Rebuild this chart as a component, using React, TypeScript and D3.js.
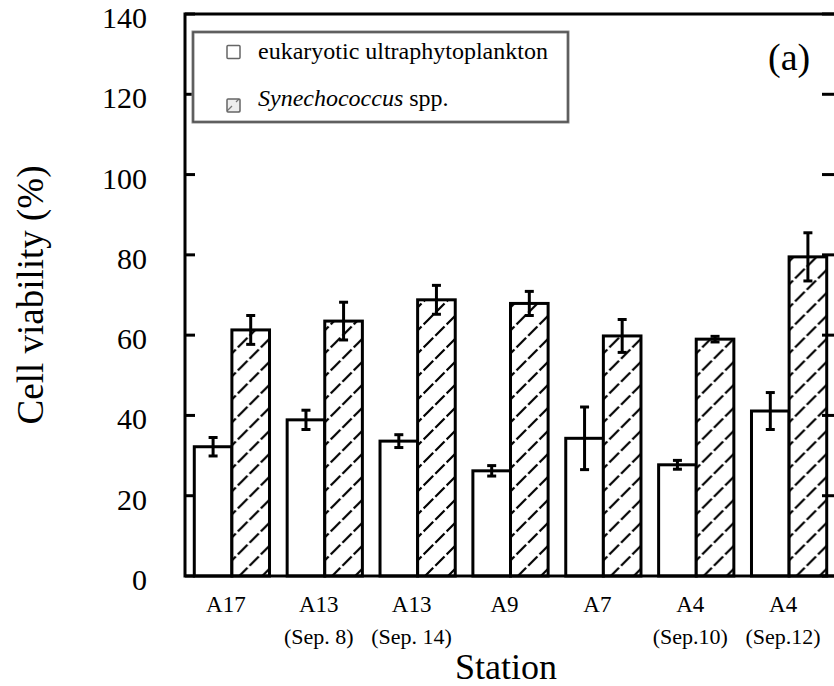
import React from "react";
import * as d3 from "d3";

const stations = ["A17", "A13", "A13", "A9", "A7", "A4", "A4"];
const stationDates = ["", "(Sep. 8)", "(Sep. 14)", "", "", "(Sep.10)", "(Sep.12)"];
const eukaryotic = [32.2, 38.9, 33.6, 26.2, 34.3, 27.7, 41.1];
const eukaryoticErr = [2.3, 2.4, 1.6, 1.3, 7.8, 1.1, 4.6];
const synechococcus = [61.3, 63.5, 68.8, 67.9, 59.8, 59.0, 79.5];
const synechococcusErr = [3.6, 4.7, 3.6, 3.0, 4.1, 0.7, 6.0];
const yTicks = [0, 20, 40, 60, 80, 100, 120, 140];
const seriesKeys = ["euk", "syn"];

const W = 834;
const H = 686;
const left = 185;
const right = 836;
const top = 14;
const bottom = 576;
const FONT = "Liberation Serif";
const tStyle = { fontFamily: FONT };

export default function App() {
  const ids = stations.map((_, i) => String(i));
  const x = d3.scaleBand<string>().domain(ids).range([left, right]).paddingInner(0.19).paddingOuter(0.1);
  const xs = d3.scaleBand<string>().domain(seriesKeys).range([0, x.bandwidth()]);
  const y = d3.scaleLinear().domain([0, 140]).range([bottom, top]);

  const rows = ids.map((id, i) => ({
    id,
    vals: [
      { key: "euk", v: eukaryotic[i], e: eukaryoticErr[i] },
      { key: "syn", v: synechococcus[i], e: synechococcusErr[i] },
    ],
  }));

  return (
    <svg width={W} height={H} style={{ position: "absolute", left: 0, top: 0, background: "#fff", fontFamily: FONT }}>
      <defs>
        <pattern id="hatch" patternUnits="userSpaceOnUse" width={23} height={23}>
          <rect width={23} height={23} fill="#fff" />
          <path d="M-2,25 L25,-2 M-6,6 L6,-6 M17,29 L29,17" stroke="#000" strokeWidth={2.2} strokeDasharray="13,3" />
        </pattern>
        <pattern id="hatchSmall" patternUnits="userSpaceOnUse" width={13} height={13}>
          <rect width={13} height={13} fill="#eee" />
          <path d="M2,11 L11,2" stroke="#777" strokeWidth={1.2} />
        </pattern>
      </defs>
      <rect x={0} y={0} width={W} height={H} fill="#fff" />

      {rows.map((r) => (
        <g key={r.id} transform={`translate(${x(r.id)},0)`}>
          {r.vals.map((d) => (
            <rect
              key={d.key}
              x={xs(d.key)}
              y={y(d.v)}
              width={xs.bandwidth()}
              height={y(0) - y(d.v)}
              fill={d.key === "syn" ? "url(#hatch)" : "#fff"}
              stroke="#000"
              strokeWidth={3}
            />
          ))}
          {r.vals.map((d) => {
            const cx = (xs(d.key) as number) + xs.bandwidth() / 2;
            return (
              <g key={"e" + d.key} stroke="#000" strokeWidth={3}>
                <line x1={cx} x2={cx} y1={y(d.v + d.e)} y2={y(d.v - d.e)} />
                <line x1={cx - 4.5} x2={cx + 4.5} y1={y(d.v + d.e)} y2={y(d.v + d.e)} />
                <line x1={cx - 4.5} x2={cx + 4.5} y1={y(d.v - d.e)} y2={y(d.v - d.e)} />
              </g>
            );
          })}
        </g>
      ))}

      {yTicks.map((t) => (
        <g key={t}>
          <line x1={left} x2={left + 10} y1={y(t)} y2={y(t)} stroke="#000" strokeWidth={3} />
          <line x1={right - 14} x2={right} y1={y(t)} y2={y(t)} stroke="#000" strokeWidth={3} />
          <text x={147} y={y(t) + 14} textAnchor="end" fontSize={30} fill="#000" style={tStyle}>
            {t}
          </text>
        </g>
      ))}

      <rect x={left} y={top} width={right - left} height={bottom - top} fill="none" stroke="#000" strokeWidth={3} />

      <g>
        <rect x={193} y={32} width={375} height={90} fill="#fff" stroke="#8a8a8a" strokeWidth={3} />
        <rect x={193} y={32} width={375} height={90} fill="none" stroke="#444" strokeWidth={1.2} />
        <rect x={227} y={45.5} width={13} height={13} fill="#fff" stroke="#666" strokeWidth={1.5} rx={1} />
        <text x={258} y={59} fontSize={24} fill="#000" style={tStyle}>
          eukaryotic ultraphytoplankton
        </text>
        <rect x={227} y={99} width={13} height={13} fill="url(#hatchSmall)" stroke="#666" strokeWidth={1.5} rx={1} />
        <text x={258} y={106} fontSize={24} fill="#000" style={tStyle}>
          <tspan fontStyle="italic" style={tStyle}>Synechococcus</tspan> spp.
        </text>
      </g>

      <text x={768} y={70} fontSize={38} fill="#000" style={tStyle}>
        (a)
      </text>

      {ids.map((id, i) => {
        const cx = (x(id) as number) + x.bandwidth() / 2 - 6;
        return (
          <g key={"l" + id}>
            <text x={cx} y={612} textAnchor="middle" fontSize={23} fill="#000" style={tStyle}>
              {stations[i]}
            </text>
            {stationDates[i] && (
              <text x={cx} y={644} textAnchor="middle" fontSize={22} fill="#000" style={tStyle}>
                {stationDates[i]}
              </text>
            )}
          </g>
        );
      })}

      <text x={506} y={679} textAnchor="middle" fontSize={36} fill="#000" style={tStyle}>
        Station
      </text>
      <text transform={`translate(43,${(top + bottom) / 2}) rotate(-90)`} textAnchor="middle" fontSize={37} fill="#000" style={tStyle}>
        Cell viability (%)
      </text>
    </svg>
  );
}
